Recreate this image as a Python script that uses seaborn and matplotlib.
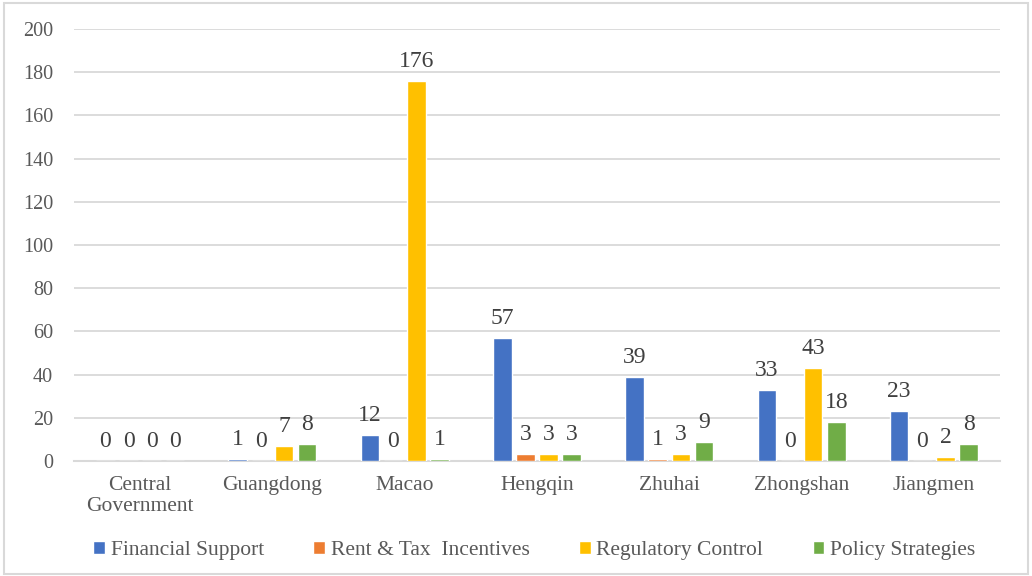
import matplotlib
matplotlib.use("Agg")
import matplotlib.pyplot as plt
import matplotlib.patches as mpatches
import seaborn as sns
import pandas as pd

regions = ["Central\nGovernment", "Guangdong", "Macao", "Hengqin", "Zhuhai", "Zhongshan", "Jiangmen"]
series_names = ["Financial Support", "Rent & Tax  Incentives", "Regulatory Control", "Policy Strategies"]
financial_support = [0, 1, 12, 57, 39, 33, 23]
rent_tax_incentives = [0, 0, 0, 3, 1, 0, 0]
regulatory_control = [0, 7, 176, 3, 3, 43, 2]
policy_strategies = [0, 8, 1, 3, 9, 18, 8]
series_colors = ["#4472C4", "#ED7D31", "#FFC000", "#70AD47"]
y_ticks = [0, 20, 40, 60, 80, 100, 120, 140, 160, 180, 200]

values = [financial_support, rent_tax_incentives, regulatory_control, policy_strategies]
rows = []
for name, vals in zip(series_names, values):
    for region, v in zip(regions, vals):
        rows.append({"Region": region, "Category": name, "Count": v})
df = pd.DataFrame(rows)

sns.set_theme(style="white")
plt.rcParams["font.family"] = ["Liberation Serif", "DejaVu Serif"]

fig = plt.figure(figsize=(10.32, 5.76), dpi=100)
ax = fig.add_axes([0.0717, 0.1997, 0.8973, 0.75])

sns.barplot(data=df, x="Region", y="Count", hue="Category", order=regions,
            hue_order=series_names, palette=series_colors, width=0.7, gap=0.2,
            saturation=1, errorbar=None, ax=ax, zorder=3)

for container in ax.containers:
    ax.bar_label(container, fmt="%d", padding=6.5, fontsize=17, color="#404040")

ax.set_ylim(0, 200)
ax.set_yticks(y_ticks)
ax.set_xlim(-0.5, len(regions) - 0.5)
ax.yaxis.grid(True, color="#D9D9D9", linewidth=1.3, zorder=0)
ax.set_axisbelow(True)
for side in ["left", "right", "top"]:
    ax.spines[side].set_visible(False)
ax.spines["bottom"].set_color("#D9D9D9")
ax.spines["bottom"].set_linewidth(1.5)
ax.tick_params(axis="y", labelsize=14.5, labelcolor="#595959", length=0, pad=15)
ax.tick_params(axis="x", labelsize=15.5, labelcolor="#595959", length=0, pad=11)
for lbl in ax.get_xticklabels():
    lbl.set_linespacing(1.1)
ax.set_xlabel("")
ax.set_ylabel("")

handles, labels = ax.get_legend_handles_labels()
ax.legend(handles, labels, loc="center", bbox_to_anchor=(0.497, -0.208),
          ncol=4, frameon=False, fontsize=15.5, labelcolor="#595959",
          handlelength=0.55, handleheight=0.55, handletextpad=0.25, columnspacing=2.3)

fig.patches.append(mpatches.Rectangle((0.004, 0.004), 0.992, 0.99, transform=fig.transFigure,
                                      fill=False, edgecolor="#D9D9D9", linewidth=1.5))

fig.savefig("out.png", dpi=100)
